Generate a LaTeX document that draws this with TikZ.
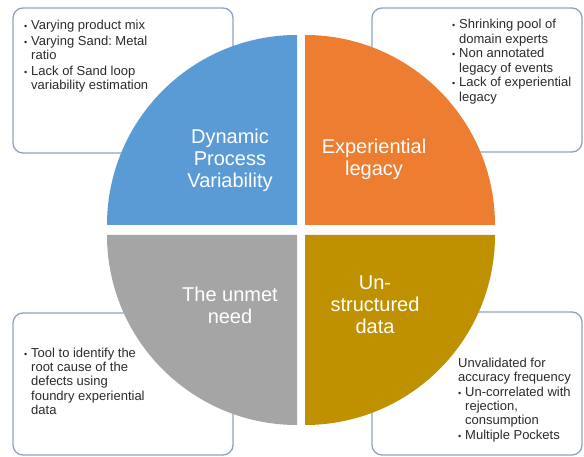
\documentclass[tikz,border=0pt]{standalone}
\usepackage{fontspec}
\setmainfont{Liberation Sans}
\frenchspacing
\definecolor{qblue}{HTML}{5B9BD5}
\definecolor{qorange}{HTML}{ED7D31}
\definecolor{qgray}{HTML}{A5A5A5}
\definecolor{qgold}{HTML}{BF9000}
\definecolor{boxline}{HTML}{8CA3C6}
\definecolor{bodytext}{HTML}{2B2B2B}
\newcommand{\bl}{\makebox[7pt][l]{\fontsize{9}{9}\selectfont\textbullet}}
\newcommand{\ind}{\hspace*{7pt}}
\begin{document}
\begin{tikzpicture}[x=1pt,y=-1pt,
  infobox/.style={draw=boxline, line width=1.3pt, fill=white, rounded corners=10pt, inner sep=0pt},
  qlabel/.style={text=white, align=center, font=\fontsize{20}{22}\selectfont, inner sep=0pt},
  bodylist/.style={anchor=base west, inner sep=0pt, text=bodytext, font=\fontsize{13}{14.2}\selectfont}]
\useasboundingbox (0,0) rectangle (584,457);
\fill[white] (0,0) rectangle (584,457);
% boxes
\node[infobox, minimum width=220, minimum height=145] (b1) at (123,80.5) {};
\node[infobox, minimum width=210, minimum height=144] (b2) at (477,80) {};
\node[infobox, minimum width=220, minimum height=142] (b3) at (123,384) {};
\node[infobox, minimum width=210, minimum height=143] (b4) at (477,383.5) {};
% quadrants
\fill[qblue] (297,225) -- (107,225) arc[start angle=180, end angle=90, radius=190pt] -- cycle;
\fill[qorange] (305,225) -- (305,35) arc[start angle=90, end angle=0, radius=190pt] -- cycle;
\fill[qgold] (305,235) -- (495,235) arc[start angle=0, end angle=-90, radius=190pt] -- cycle;
\fill[qgray] (297,235) -- (297,425) arc[start angle=270, end angle=180, radius=190pt] -- cycle;
% quadrant labels
\node[qlabel] (l1) at (230,160) {Dynamic\\Process\\Variability};
\node[qlabel] (l2) at (374,159) {Experiential\\legacy};
\node[qlabel] (l3) at (230,305) {The unmet\\need};
\node[qlabel] (l4) at (375,305) {Un-\\structured\\data};
% texts
\node[bodylist] (t1) at (24,29.5) {\begin{tabular}[t]{@{}l@{}}
\bl Varying product mix\\[1.6pt]
\bl Varying Sand: Metal\\
\ind ratio\\[1.6pt]
\bl Lack of Sand loop\\
\ind variability estimation
\end{tabular}};
\node[bodylist] (t2) at (452,29) {\begin{tabular}[t]{@{}l@{}}
\bl Shrinking pool of\\
\ind domain experts\\[0.6pt]
\bl Non annotated\\
\ind legacy of events\\[0.6pt]
\bl Lack of experiential\\
\ind legacy
\end{tabular}};
\node[bodylist] (t3) at (24,357.5) {\begin{tabular}[t]{@{}l@{}}
\bl Tool to identify the\\
\ind root cause of the\\
\ind defects using\\
\ind foundry experiential\\
\ind data
\end{tabular}};
\node[bodylist] (t4) at (458,367.5) {\begin{tabular}[t]{@{}l@{}}
Unvalidated for\\
accuracy frequency\\[0.6pt]
\bl Un-correlated with\\
\ind rejection,\\
\ind consumption\\[0.6pt]
\bl Multiple Pockets
\end{tabular}};
\end{tikzpicture}
\end{document}
